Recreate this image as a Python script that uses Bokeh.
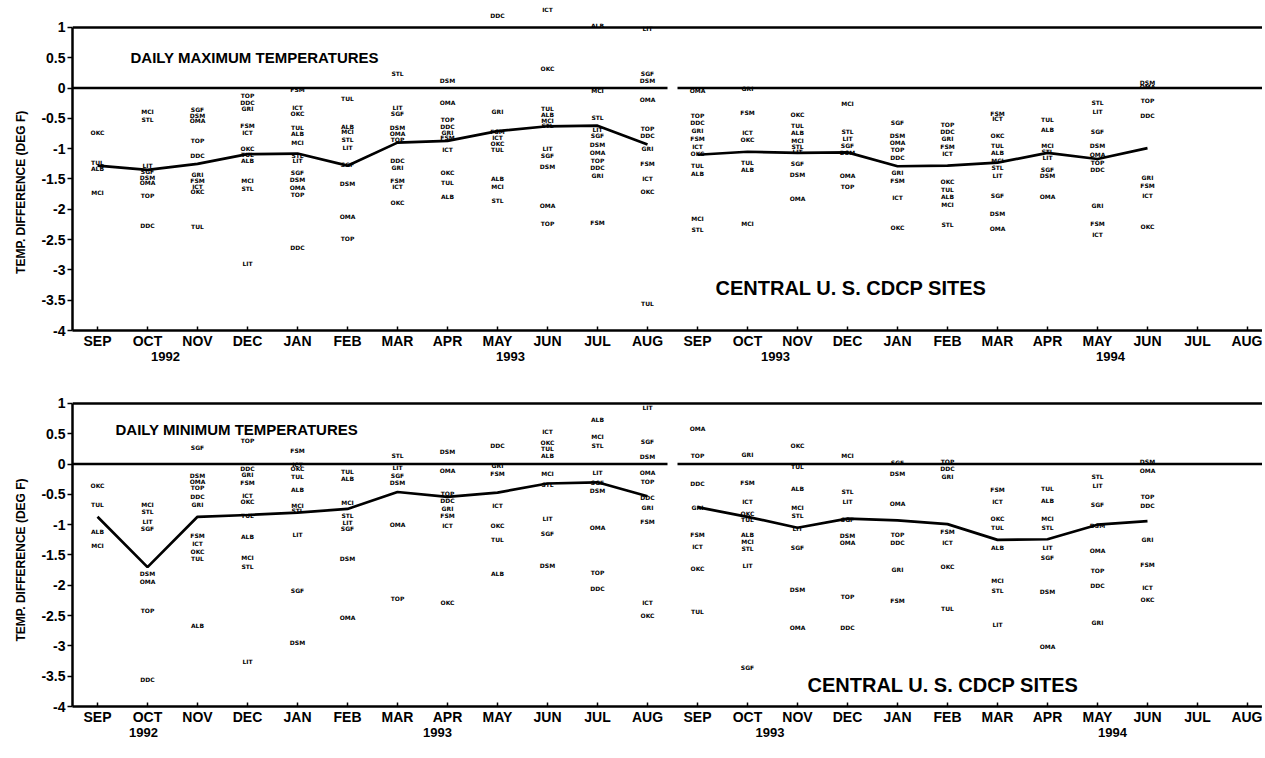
from bokeh.plotting import figure
from bokeh.models import FixedTicker, LinearAxis, Range1d, Span
from bokeh.layouts import column
from bokeh.core.properties import value
from bokeh.embed import file_html
from bokeh.resources import INLINE

# ---------------- data ----------------
months = ["SEP", "OCT", "NOV", "DEC", "JAN", "FEB", "MAR", "APR", "MAY", "JUN", "JUL", "AUG"] * 2

y_ticks = [1, 0.5, 0, -0.5, -1, -1.5, -2, -2.5, -3, -3.5, -4]
y_tick_labels = ["1", "0.5", "0", "-0.5", "-1", "-1.5", "-2", "-2.5", "-3", "-3.5", "-4"]

site_codes = ["OKC", "TUL", "ALB", "MCI", "STL", "LIT", "SGF", "DSM", "OMA", "TOP", "DDC", "GRI", "FSM", "ICT"]

# Daily maximum temperatures: mean of sites, Sep 92 - Aug 93 and Sep 93 - Jun 94
max_mean_y1 = [-1.28, -1.35, -1.25, -1.09, -1.08, -1.28, -0.90, -0.87, -0.71, -0.63, -0.62, -0.93]
max_mean_y2 = [-1.10, -1.05, -1.07, -1.06, -1.29, -1.28, -1.23, -1.07, -1.17, -0.99]

# individual site differences per month (Sep 92 ... Jun 94)
max_sites = [
    [-0.74, -1.22, -1.32, -1.73],
    [-0.39, -0.51, -1.27, -1.37, -1.47, -1.56, -1.78, -2.26],
    [-0.35, -0.45, -0.54, -0.87, -1.12, -1.42, -1.52, -1.62, -1.70, -2.29],
    [-0.12, -0.23, -0.33, -0.61, -0.73, -0.99, -1.09, -1.19, -1.52, -1.65, -2.89],
    [-0.02, -0.32, -0.42, -0.65, -0.75, -0.90, -1.11, -1.19, -1.39, -1.51, -1.64, -1.75, -2.63],
    [-0.17, -0.63, -0.72, -0.85, -0.98, -1.26, -1.57, -2.12, -2.48],
    [0.24, -0.32, -0.42, -0.65, -0.75, -0.85, -1.20, -1.31, -1.53, -1.63, -1.89],
    [0.12, -0.23, -0.52, -0.64, -0.74, -0.82, -1.02, -1.40, -1.55, -1.79],
    [1.19, -0.38, -0.71, -0.82, -0.92, -1.02, -1.50, -1.63, -1.86],
    [1.29, 0.33, -0.33, -0.43, -0.53, -0.61, -0.99, -1.11, -1.29, -1.93, -2.23],
    [1.04, -0.04, -0.48, -0.68, -0.78, -0.93, -1.06, -1.19, -1.31, -1.44, -2.21],
    [0.99, 0.24, 0.13, -0.19, -0.67, -0.78, -0.99, -1.24, -1.49, -1.71, -3.55],
    [-0.04, -0.45, -0.57, -0.70, -0.83, -0.97, -1.08, -1.28, -1.41, -2.15, -2.34],
    [0.00, -0.41, -0.74, -0.84, -1.22, -1.35, -2.23],
    [-0.43, -0.62, -0.74, -0.86, -0.97, -1.05, -1.25, -1.43, -1.83],
    [-0.25, -0.71, -0.83, -0.94, -1.07, -1.45, -1.62],
    [-0.56, -0.78, -0.89, -1.01, -1.14, -1.39, -1.52, -1.80, -2.30],
    [-0.60, -0.72, -0.83, -0.96, -1.08, -1.54, -1.67, -1.79, -1.92, -2.25],
    [-0.42, -0.50, -0.78, -0.95, -1.06, -1.20, -1.31, -1.44, -1.77, -2.07, -2.32],
    [-0.52, -0.69, -0.94, -1.05, -1.15, -1.35, -1.45, -1.79],
    [-0.24, -0.38, -0.71, -0.95, -1.09, -1.22, -1.35, -1.94, -2.24, -2.41],
    [0.10, 0.02, -0.21, -0.45, -1.47, -1.60, -1.78, -2.28],
]

# Daily minimum temperatures
min_mean_y1 = [-0.87, -1.70, -0.87, -0.84, -0.80, -0.74, -0.46, -0.54, -0.47, -0.32, -0.30, -0.53]
min_mean_y2 = [-0.71, -0.87, -1.05, -0.90, -0.93, -0.99, -1.25, -1.24, -1.00, -0.94]

min_sites = [
    [-0.35, -0.66, -1.12, -1.34],
    [-0.67, -0.79, -0.94, -1.07, -1.81, -1.94, -2.42, -3.56],
    [0.27, -0.18, -0.28, -0.38, -0.54, -0.66, -1.18, -1.31, -1.44, -1.55, -2.66],
    [0.39, -0.07, -0.17, -0.30, -0.51, -0.62, -0.85, -1.19, -1.54, -1.69, -3.25],
    [0.23, 0.00, -0.07, -0.21, -0.42, -0.69, -0.77, -1.16, -2.09, -2.95],
    [-0.12, -0.23, -0.64, -0.85, -0.96, -1.06, -1.55, -2.53],
    [0.15, -0.05, -0.18, -0.31, -0.99, -2.21],
    [0.21, -0.11, -0.49, -0.60, -0.73, -0.84, -1.02, -2.28],
    [0.31, -0.03, -0.16, -0.68, -1.01, -1.25, -1.80],
    [0.53, 0.36, 0.25, 0.15, -0.16, -0.34, -0.89, -1.15, -1.67],
    [0.74, 0.45, 0.30, -0.14, -0.30, -0.43, -1.04, -1.79, -2.06],
    [0.94, 0.37, 0.12, -0.14, -0.29, -0.55, -0.71, -0.95, -2.29, -2.50],
    [0.58, 0.14, -0.32, -0.72, -1.16, -1.36, -1.73, -2.43],
    [0.16, -0.30, -0.62, -0.82, -0.92, -1.16, -1.28, -1.39, -1.68, -3.36],
    [0.31, -0.04, -0.41, -0.72, -0.85, -1.06, -1.37, -2.07, -2.69],
    [0.14, -0.46, -0.62, -0.91, -1.17, -1.30, -2.18, -2.70],
    [0.03, -0.16, -0.65, -1.16, -1.30, -1.74, -2.25],
    [0.05, -0.08, -0.21, -1.12, -1.29, -1.69, -2.39],
    [-0.42, -0.62, -0.89, -1.04, -1.38, -1.92, -2.08, -2.65],
    [-0.40, -0.60, -0.89, -1.04, -1.38, -1.54, -2.10, -3.01],
    [-0.21, -0.35, -0.66, -1.02, -1.43, -1.75, -2.00, -2.62],
    [0.04, -0.11, -0.53, -0.69, -1.25, -1.65, -2.03, -2.23],
]

# year labels under the month axis (position in month index units)
max_year_pos = [1.36, 8.26, 13.56, 20.26]
min_year_pos = [0.92, 6.8, 13.45, 20.3]
year_text = ["1992", "1993", "1993", "1994"]

FONT = "Liberation Sans"
X0, X1 = -0.5, 23.3
NBSP = "\u00a0"


def make_panel(title, title_pos, subtitle_pos, sites, mean1, mean2, year_pos,
               height, top_border, bottom, label_pad):
    p = figure(width=1262, height=height, x_range=Range1d(X0, X1), y_range=Range1d(-4, 1.33),
               output_backend="svg", toolbar_location=None,
               min_border_top=top_border, min_border_right=0, min_border_left=72,
               min_border_bottom=bottom)
    p.grid.visible = False
    p.outline_line_color = None

    # y axis
    ya = p.yaxis[0]
    ya.ticker = FixedTicker(ticks=y_ticks)
    ya.major_label_overrides = {t: l for t, l in zip(y_ticks, y_tick_labels)}
    ya.bounds = (-4, 1)
    ya.axis_line_width = 2.5
    ya.major_tick_out = 5
    ya.major_tick_in = 0
    ya.major_tick_line_width = 1.5
    ya.minor_tick_line_color = None
    ya.major_label_text_font = FONT
    ya.major_label_text_font_style = "bold"
    ya.major_label_text_font_size = "14px"
    ya.major_label_text_color = "black"
    ya.major_label_standoff = 2
    ya.axis_label = "TEMP. DIFFERENCE (DEG F)" + NBSP * label_pad
    ya.axis_label_text_font = FONT
    ya.axis_label_text_font_style = "bold"
    ya.axis_label_text_font_size = "12px"
    ya.axis_label_text_color = "black"
    ya.axis_label_standoff = 10

    # x axis (months)
    xa = p.xaxis[0]
    xa.ticker = FixedTicker(ticks=list(range(len(months))))
    xa.major_label_overrides = {i: m for i, m in enumerate(months)}
    xa.axis_line_width = 2.5
    xa.major_tick_in = 4
    xa.major_tick_out = 0
    xa.major_tick_line_width = 1.5
    xa.minor_tick_line_color = None
    xa.major_label_text_font = FONT
    xa.major_label_text_font_style = "bold"
    xa.major_label_text_font_size = "14px"
    xa.major_label_text_color = "black"
    xa.major_label_standoff = 2

    # year axis
    yr = LinearAxis(ticker=FixedTicker(ticks=year_pos),
                    major_label_overrides={t: l for t, l in zip(year_pos, year_text)})
    yr.axis_line_color = None
    yr.major_tick_line_color = None
    yr.minor_tick_line_color = None
    yr.major_label_standoff = -6
    yr.major_label_text_font = FONT
    yr.major_label_text_font_style = "bold"
    yr.major_label_text_font_size = "13px"
    yr.major_label_text_color = "black"
    p.add_layout(yr, "below")

    # reference lines: top at +1, zero line broken between the two years
    p.add_layout(Span(location=1, dimension="width", line_color="black", line_width=2.5))
    p.line([X0, 11.4], [0, 0], line_color="black", line_width=2.5)
    p.line([11.6, X1], [0, 0], line_color="black", line_width=2.5)

    # site labels
    xs, ys, ts = [], [], []
    for i, vals in enumerate(sites):
        for j, v in enumerate(vals):
            xs.append(i)
            ys.append(v)
            ts.append(site_codes[(i * 3 + j) % len(site_codes)])
    p.text(x=xs, y=ys, text=ts, text_font=value("DejaVu Sans"), text_font_style="bold",
           text_font_size="6px", text_align="center", text_baseline="middle", text_color="black")

    # mean lines
    p.line(list(range(len(mean1))), mean1, line_color="black", line_width=2.7)
    p.line(list(range(12, 12 + len(mean2))), mean2, line_color="black", line_width=2.7)

    # titles
    p.text(x=[title_pos[0]], y=[title_pos[1]], text=[title], text_font=value(FONT),
           text_font_style="bold", text_font_size="15px", text_align="left", text_baseline="middle",
           text_color="black")
    p.text(x=[subtitle_pos[0]], y=[subtitle_pos[1]], text=["CENTRAL  U. S.  CDCP  SITES"],
           text_font=value(FONT), text_font_style="bold", text_font_size="20px",
           text_align="left", text_baseline="middle", text_color="black")
    return p


top = make_panel("DAILY  MAXIMUM  TEMPERATURES", (0.66, 0.51), (12.36, -3.3),
                 max_sites, max_mean_y1, max_mean_y2, max_year_pos, 383, 7, 53, 14)
bot = make_panel("DAILY  MINIMUM  TEMPERATURES", (0.36, 0.57), (14.2, -3.65),
                 min_sites, min_mean_y1, min_mean_y2, min_year_pos, 368, 0, 45, 9)

layout = column(top, bot, spacing=0)
open("out.html", "w").write(file_html(layout, INLINE))
